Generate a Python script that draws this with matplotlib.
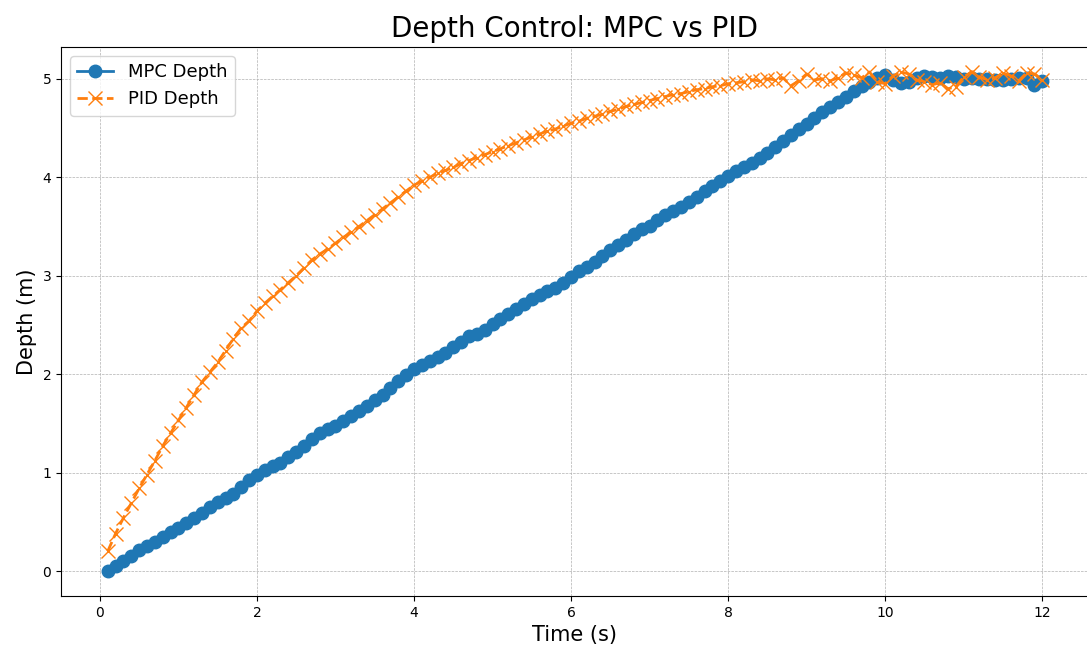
import numpy as np
import matplotlib
matplotlib.use("Agg")
import matplotlib.pyplot as plt

time_s = [round(0.1 * i, 1) for i in range(1, 121)]

mpc_depth = [
    0.00, 0.05, 0.10, 0.15, 0.21, 0.25, 0.30, 0.35, 0.40, 0.44,
    0.49, 0.54, 0.59, 0.65, 0.70, 0.74, 0.78, 0.85, 0.92, 0.98,
    1.03, 1.07, 1.10, 1.16, 1.21, 1.27, 1.34, 1.40, 1.44, 1.47,
    1.52, 1.58, 1.63, 1.68, 1.74, 1.79, 1.86, 1.93, 1.99, 2.05,
    2.09, 2.13, 2.17, 2.22, 2.28, 2.33, 2.39, 2.41, 2.45, 2.51,
    2.56, 2.61, 2.66, 2.71, 2.76, 2.80, 2.84, 2.88, 2.93, 2.99,
    3.05, 3.09, 3.14, 3.20, 3.26, 3.31, 3.36, 3.42, 3.47, 3.51,
    3.57, 3.62, 3.66, 3.70, 3.75, 3.80, 3.86, 3.91, 3.96, 4.01,
    4.06, 4.10, 4.15, 4.20, 4.25, 4.31, 4.37, 4.43, 4.49, 4.54,
    4.60, 4.66, 4.71, 4.76, 4.82, 4.88, 4.93, 4.97, 5.01, 5.04,
    4.99, 4.96, 4.97, 5.01, 5.03, 5.02, 5.01, 5.03, 5.02, 5.00,
    5.01, 5.00, 5.00, 4.99, 4.99, 5.00, 5.01, 5.01, 4.94, 4.98,
]

pid_depth = [
    0.20, 0.38, 0.54, 0.69, 0.84, 0.98, 1.12, 1.27, 1.40, 1.53,
    1.66, 1.79, 1.92, 2.02, 2.12, 2.24, 2.36, 2.47, 2.54, 2.64,
    2.72, 2.79, 2.86, 2.93, 3.00, 3.08, 3.16, 3.22, 3.27, 3.33,
    3.39, 3.44, 3.50, 3.56, 3.62, 3.68, 3.74, 3.80, 3.86, 3.92,
    3.96, 4.00, 4.04, 4.07, 4.10, 4.14, 4.17, 4.20, 4.23, 4.26,
    4.29, 4.32, 4.35, 4.38, 4.41, 4.44, 4.47, 4.49, 4.52, 4.55,
    4.57, 4.60, 4.62, 4.64, 4.67, 4.69, 4.72, 4.74, 4.76, 4.78,
    4.80, 4.82, 4.84, 4.85, 4.87, 4.89, 4.90, 4.92, 4.93, 4.95,
    4.96, 4.97, 4.99, 4.98, 5.00, 4.99, 5.01, 4.93, 4.98, 5.05,
    4.99, 5.00, 4.98, 5.01, 5.06, 5.04, 5.01, 5.07, 4.97, 4.95,
    5.03, 5.07, 5.05, 4.99, 4.97, 4.94, 4.96, 4.90, 4.92, 5.02,
    5.07, 5.02, 4.99, 5.01, 5.06, 5.03, 4.98, 5.06, 5.05, 4.99,
]

fig = plt.figure(figsize=(10.87, 6.51), dpi=100)
ax = fig.add_axes([0.0561, 0.0845, 0.9457, 0.8433])

ax.plot(time_s, mpc_depth, color="#1f77b4", linestyle="-", marker="o",
        markersize=9, linewidth=2, label="MPC Depth")
ax.plot(time_s, pid_depth, color="#ff7f0e", linestyle="--", marker="x",
        markersize=10, linewidth=2, label="PID Depth")

ax.set_title("Depth Control: MPC vs PID", fontsize=20, pad=7)
ax.set_xlabel("Time (s)", fontsize=15)
ax.set_ylabel("Depth (m)", fontsize=15)
ax.grid(True, linestyle="--", linewidth=0.5, color="#b0b0b0")
ax.legend(loc="upper left", fontsize=13)

fig.savefig("out.png", dpi=100)
